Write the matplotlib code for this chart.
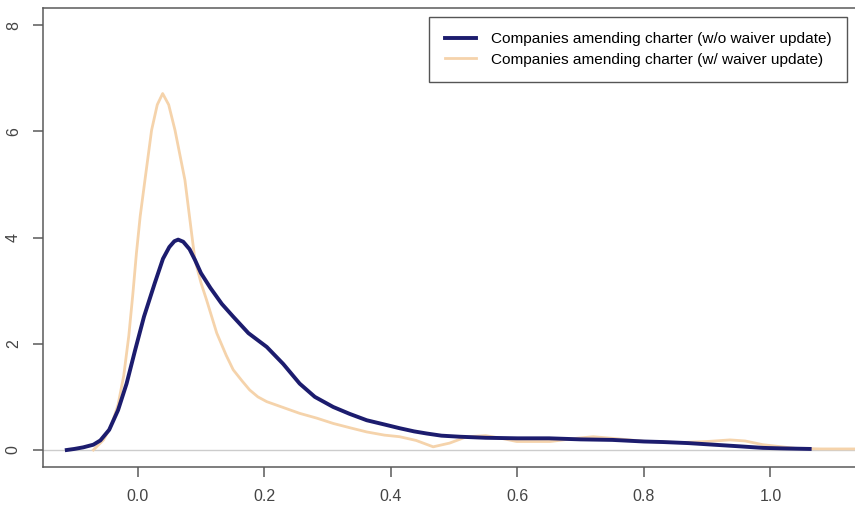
import matplotlib.pyplot as plt

# density curves
navy_x = [-0.112, -0.1, -0.086, -0.07, -0.059, -0.045, -0.031, -0.0175, -0.004, 0.010, 0.027,
          0.040, 0.05, 0.058, 0.064, 0.072, 0.082, 0.0905, 0.1, 0.115, 0.133, 0.151, 0.175,
          0.204, 0.23, 0.256, 0.28, 0.309, 0.335, 0.362, 0.39, 0.414, 0.437, 0.457, 0.48,
          0.509, 0.55, 0.6, 0.65, 0.7, 0.75, 0.8, 0.83, 0.87, 0.91, 0.95, 0.988, 1.02, 1.062]
navy_y = [0.0, 0.02, 0.05, 0.1, 0.18, 0.38, 0.75, 1.25, 1.88, 2.51, 3.14, 3.6, 3.82, 3.93,
          3.96, 3.92, 3.78, 3.58, 3.33, 3.05, 2.75, 2.51, 2.2, 1.94, 1.62, 1.25, 1.0, 0.81,
          0.68, 0.56, 0.48, 0.41, 0.35, 0.31, 0.27, 0.25, 0.23, 0.22, 0.22, 0.2, 0.19, 0.16,
          0.15, 0.13, 0.1, 0.07, 0.04, 0.03, 0.02]

tan_x = [-0.07, -0.054, -0.042, -0.031, -0.022, -0.014, -0.0075, -0.002, 0.004, 0.0115,
         0.022, 0.031, 0.0395, 0.049, 0.059, 0.0747, 0.0905, 0.1, 0.109, 0.125, 0.14, 0.151,
         0.165, 0.177, 0.19, 0.204, 0.23, 0.256, 0.283, 0.309, 0.335, 0.362, 0.39, 0.414,
         0.44, 0.467, 0.493, 0.52, 0.55, 0.575, 0.599, 0.652, 0.693, 0.72, 0.75, 0.804,
         0.857, 0.9, 0.936, 0.96, 0.988, 1.04, 1.08, 1.14]
tan_y = [0.0, 0.19, 0.45, 0.85, 1.4, 2.15, 2.95, 3.7, 4.4, 5.08, 6.02, 6.5, 6.71, 6.5, 6.02,
         5.08, 3.58, 3.15, 2.82, 2.2, 1.78, 1.51, 1.3, 1.13, 1.0, 0.91, 0.8, 0.69, 0.6, 0.5,
         0.42, 0.34, 0.28, 0.25, 0.18, 0.06, 0.13, 0.25, 0.27, 0.22, 0.16, 0.16, 0.22, 0.25,
         0.22, 0.16, 0.14, 0.16, 0.19, 0.17, 0.1, 0.03, 0.02, 0.02]

labels = ['Companies amending charter (w/o waiver update)',
          'Companies amending charter (w/ waiver update)']
x_ticks = [0.0, 0.2, 0.4, 0.6, 0.8, 1.0]
y_ticks = [0, 2, 4, 6, 8]

plt.rcParams['font.family'] = ['Liberation Sans', 'DejaVu Sans']

fig = plt.figure(figsize=(8.55, 5.07), dpi=100)
# axes box runs past the right edge of the picture, as in the reference
ax = fig.add_axes([43 / 855, 40 / 507, 854 / 855, 459 / 507])

ax.axhline(0, color='#cccccc', lw=1.0, zorder=1)
ax.plot(navy_x, navy_y, color='#1c1c6e', lw=2.8, label=labels[0], zorder=3)
ax.plot(tan_x, tan_y, color='#f5d3ab', lw=2.0, label=labels[1], zorder=2)

ax.set_xlim(-0.1496, 1.2)
ax.set_ylim(-0.32, 8.32)
ax.set_xticks(x_ticks)
ax.set_xticklabels(['%.1f' % v for v in x_ticks])
ax.set_yticks(y_ticks)
ax.set_yticklabels([str(v) for v in y_ticks], rotation=90, va='center')

for s in ax.spines.values():
    s.set_color('#5a5a5a')
    s.set_linewidth(1.1)
ax.tick_params(colors='#5a5a5a', labelcolor='#444444', length=7, width=1.1,
               labelsize=11.5, pad=9)

fig.legend(loc='upper right', bbox_to_anchor=(847 / 855, 1 - 17 / 507),
           fontsize=11.1, frameon=True, fancybox=False, edgecolor='#555555',
           framealpha=1, handlelength=2.0, handletextpad=1.0, labelspacing=0.4,
           borderpad=1.0, borderaxespad=0)

fig.savefig('out.png', dpi=100)
